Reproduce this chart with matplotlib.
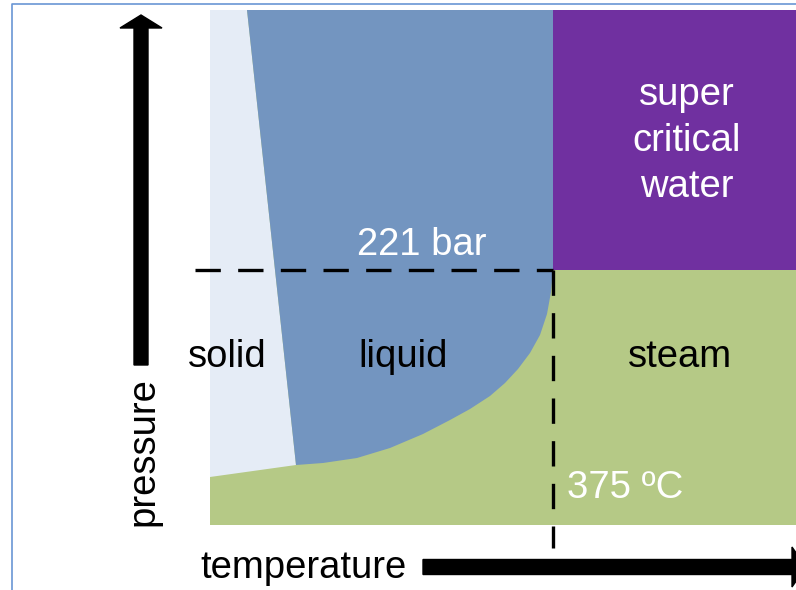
import matplotlib
matplotlib.use("Agg")
import matplotlib.pyplot as plt
from matplotlib.patches import Polygon, FancyArrow

plt.rcParams['font.family'] = ['Liberation Sans', 'DejaVu Sans']

# diagram frame (temperature -> x, pressure -> y, y grows downward)
frame_x = [210, 796]
frame_y = [10, 525]

# critical point (375 C, 221 bar)
crit_x, crit_y = 553, 270

# solid / liquid boundary (melting line)
melt_x = [247, 296]
melt_y = [10, 465]

# solid / vapour boundary (sublimation line)
subl_x = [210, 296]
subl_y = [477, 465]

# liquid / vapour boundary (boiling curve), triple point -> critical point
boil_x = [296, 323, 357, 390, 423, 450, 470, 490, 505, 518, 530, 540, 547, 551, 553]
boil_y = [465, 463, 458, 448, 434, 420, 409, 396, 383, 369, 353, 335, 314, 292, 270]

c_solid = '#E5ECF6'
c_liquid = '#7395C0'
c_super = '#7030A0'
c_steam = '#B5C986'

fig = plt.figure(figsize=(7.96, 5.90), dpi=100)
ax = fig.add_axes([0, 0, 1, 1])
ax.set_xlim(0, 796)
ax.set_ylim(590, 0)
ax.axis('off')

# steam background
ax.add_patch(Polygon([(frame_x[0], frame_y[0]), (frame_x[1], frame_y[0]),
                      (frame_x[1], frame_y[1]), (frame_x[0], frame_y[1])],
                     closed=True, fc=c_steam, ec='none'))
# solid
ax.add_patch(Polygon([(frame_x[0], frame_y[0]), (melt_x[0], melt_y[0]),
                      (melt_x[1], melt_y[1]), (subl_x[0], subl_y[0])],
                     closed=True, fc=c_solid, ec='none'))
# liquid
liq = [(melt_x[0], frame_y[0]), (crit_x, frame_y[0])]
liq += list(zip(boil_x[::-1], boil_y[::-1]))
ax.add_patch(Polygon(liq, closed=True, fc=c_liquid, ec='none'))
# supercritical
ax.add_patch(Polygon([(crit_x, frame_y[0]), (frame_x[1], frame_y[0]),
                      (frame_x[1], crit_y), (crit_x, crit_y)],
                     closed=True, fc=c_super, ec='none'))

# dashed guide lines
ax.plot([195, crit_x], [crit_y, crit_y], color='black', lw=2.4,
        linestyle=(0, (7.6, 5.2)), dash_capstyle='butt')
ax.plot([crit_x, crit_x], [crit_y, 548], color='black', lw=2.4,
        linestyle=(0, (7.6, 5.2)), dash_capstyle='butt')

# axis arrows
ax.add_patch(FancyArrow(141, 365, 0, -350, width=14, head_width=42, head_length=13,
                        length_includes_head=True, fc='black', ec='black'))
ax.add_patch(FancyArrow(423, 567, 383, 0, width=15, head_width=40, head_length=14,
                        length_includes_head=True, fc='black', ec='black'))

# slide border
ax.plot([12, 12, 796], [590, 4, 4], color='#6A96D4', lw=1.2)

fs = 27.5
ax.text(crit_x - 131, 255, '221 bar', color='white', fontsize=fs, ha='center', va='baseline')
ax.text(687, 105, 'super', color='white', fontsize=fs, ha='center', va='baseline')
ax.text(687, 151, 'critical', color='white', fontsize=fs, ha='center', va='baseline')
ax.text(687, 197, 'water', color='white', fontsize=fs, ha='center', va='baseline')
ax.text(227, 367, 'solid', color='black', fontsize=fs, ha='center', va='baseline')
ax.text(403, 367, 'liquid', color='black', fontsize=fs, ha='center', va='baseline')
ax.text(680, 367, 'steam', color='black', fontsize=fs, ha='center', va='baseline')
ax.text(567, 498, '375 ºC', color='white', fontsize=fs, ha='left', va='baseline')
ax.text(200, 578, 'temperature', color='black', fontsize=fs, ha='left', va='baseline')
ax.text(143, 452, 'pressure', color='black', fontsize=fs, ha='center', va='center',
        rotation=90)

fig.savefig('out.png', dpi=100)
